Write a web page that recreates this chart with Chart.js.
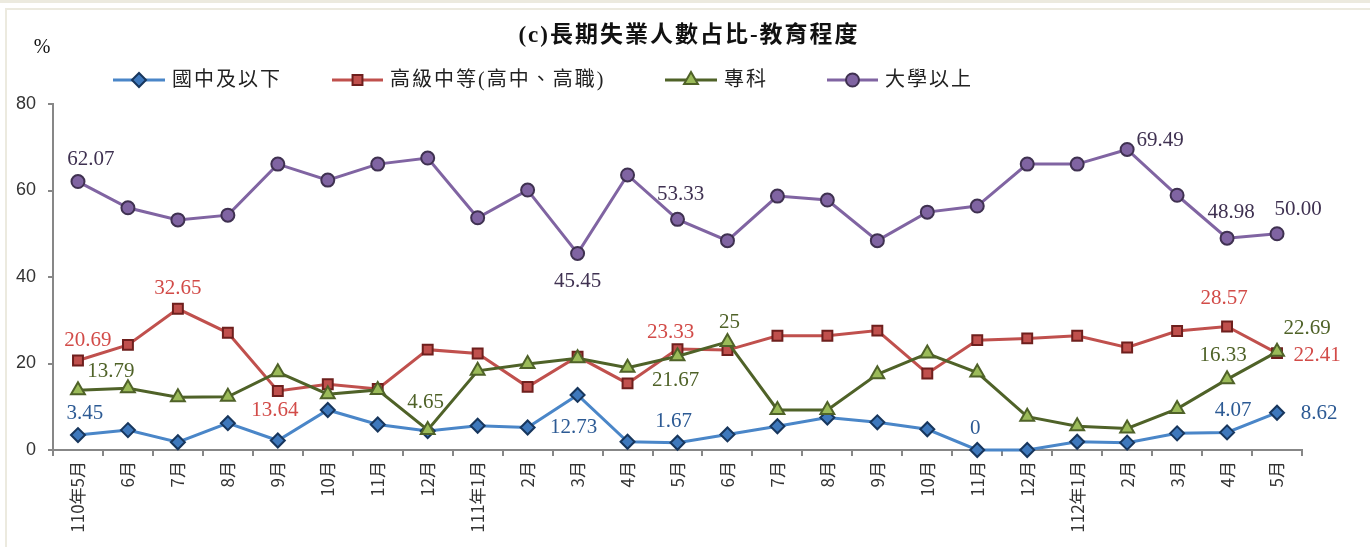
<!DOCTYPE html>
<html>
<head>
<meta charset="utf-8">
<script src="https://cdn.jsdelivr.net/npm/chart.js@4.4.1/dist/chart.umd.min.js"></script>
<style>
    html, body { margin: 0; padding: 0; background: #fff; }
    #contenedor { position: relative; width: 1370px; height: 547px; }
</style>
</head>
<body>
<div id="contenedor"><canvas id="grafica"></canvas></div>
<script>
// categorias (meses)
const meses = ['110年5月', '6月', '7月', '8月', '9月', '10月', '11月', '12月',
    '111年1月', '2月', '3月', '4月', '5月', '6月', '7月', '8月', '9月', '10月', '11月', '12月',
    '112年1月', '2月', '3月', '4月', '5月'];

// valores por serie (%)
const guoZhong = [3.45, 4.6, 1.8, 6.2, 2.2, 9.25, 5.9, 4.4, 5.6, 5.2, 12.73, 1.9, 1.67, 3.6, 5.5, 7.5, 6.4, 4.8, 0, 0, 1.9, 1.7, 3.85, 4.07, 8.62];
const gaoZhong = [20.69, 24.3, 32.65, 27.1, 13.64, 15.2, 14.1, 23.2, 22.3, 14.6, 21.6, 15.4, 23.33, 23.1, 26.4, 26.4, 27.6, 17.7, 25.4, 25.8, 26.4, 23.7, 27.5, 28.57, 22.41];
const zhuanKe = [13.79, 14.3, 12.2, 12.3, 18.0, 12.9, 13.9, 4.65, 18.3, 19.9, 21.2, 19.0, 21.67, 25, 9.25, 9.25, 17.5, 22.3, 17.9, 7.7, 5.5, 5.0, 9.5, 16.33, 22.69];
const daXue = [62.07, 56.0, 53.2, 54.3, 66.1, 62.4, 66.1, 67.5, 53.7, 60.1, 45.45, 63.6, 53.33, 48.4, 58.7, 57.8, 48.4, 55.0, 56.4, 66.1, 66.1, 69.49, 58.9, 48.98, 50.00];

// rotulos visibles (indice -> texto)
const rotGuo = {0: '3.45', 10: '12.73', 12: '1.67', 18: '0', 23: '4.07', 24: '8.62'};
const rotGao = {0: '20.69', 2: '32.65', 4: '13.64', 12: '23.33', 23: '28.57', 24: '22.41'};
const rotZhuan = {0: '13.79', 7: '4.65', 12: '21.67', 13: '25', 23: '16.33', 24: '22.69'};
const rotDa = {0: '62.07', 10: '45.45', 12: '53.33', 21: '69.49', 23: '48.98', 24: '50.00'};

const ticksY = [0, 20, 40, 60, 80];

// desplazamiento de cada rotulo respecto a su punto
const despGuo = {0: [7, -22], 10: [-4, 33], 12: [-4, -21], 18: [-2, -22], 23: [6, -22], 24: [42, 1]};
const despGao = {0: [10, -20], 2: [0, -20], 4: [-3, 19], 12: [-7, -17], 23: [-3, -28], 24: [40, 2]};
const despZhuan = {0: [33, -19], 7: [-2, -27], 12: [-2, 24], 13: [2, -19], 23: [-4, -24], 24: [30, -23]};
const despDa = {0: [13, -22], 10: [0, 28], 12: [3, -25], 21: [33, -9], 23: [4, -26], 24: [21, -24]};

const fuenteSerif = "'Liberation Serif', 'Noto Sans CJK TC', serif";

const series = [
    {label: '國中及以下', data: guoZhong, linea: '#4A86C8', relleno: '#3E78BC', borde: '#17365D',
        estilo: 'rectRot', radio: 7, texto: '#2C5A94', rot: rotGuo, desp: despGuo, orden: 2, leyX: [113, 165]},
    {label: '高級中等(高中、高職)', data: gaoZhong, linea: '#C0504D', relleno: '#C0504D', borde: '#6E1F1D',
        estilo: 'rect', radio: 7, texto: '#D24B48', rot: rotGao, desp: despGao, orden: 1, leyX: [332, 383]},
    {label: '專科', data: zhuanKe, linea: '#4F6228', relleno: '#9BBB59', borde: '#4F6228',
        estilo: 'triangle', radio: 8, texto: '#4F6228', rot: rotZhuan, desp: despZhuan, orden: 0, leyX: [665, 717]},
    {label: '大學以上', data: daXue, linea: '#8064A2', relleno: '#8064A2', borde: '#3F3151',
        estilo: 'circle', radio: 6.5, texto: '#3F3151', rot: rotDa, desp: despDa, orden: 3, leyX: [827, 878]}
];

function marca(ctx, s, x, y) {
    ctx.fillStyle = s.relleno;
    ctx.strokeStyle = s.borde;
    ctx.lineWidth = 2;
    Chart.helpers.drawPoint(ctx, {pointStyle: s.estilo, radius: s.radio, rotation: 0, borderWidth: 2}, x, y);
}

// fondo y marco beige
const marco = {
    id: 'marco',
    beforeDraw(chart) {
        const ctx = chart.ctx;
        ctx.save();
        ctx.fillStyle = '#fff';
        ctx.fillRect(0, 0, chart.width, chart.height);
        ctx.fillStyle = '#ECEADF';
        ctx.fillRect(0, 0, chart.width, 3);
        ctx.fillRect(5, 8, chart.width - 5, 2);
        ctx.fillRect(5, 8, 2, chart.height - 8);
        ctx.restore();
    }
};

// titulo, unidad y leyenda
const encabezado = {
    id: 'encabezado',
    afterDraw(chart) {
        const ctx = chart.ctx;
        ctx.save();
        ctx.fillStyle = '#111';
        ctx.textAlign = 'center';
        ctx.textBaseline = 'middle';
        ctx.font = "bold 23px 'Liberation Serif', 'Noto Sans CJK TC', serif";
        ctx.letterSpacing = '2px';
        ctx.fillText('(c)長期失業人數占比-教育程度', 689, 36);
        ctx.letterSpacing = '0px';
        ctx.font = "20px 'Liberation Serif', serif";
        ctx.fillText('%', 42, 48);

        ctx.textAlign = 'left';
        ctx.font = "20px 'Liberation Serif', 'Noto Sans CJK TC', serif";
        ctx.letterSpacing = '2px';
        series.forEach(s => {
            const [x1, x2] = s.leyX;
            const y = 80;
            ctx.strokeStyle = s.linea;
            ctx.lineWidth = 3;
            ctx.beginPath();
            ctx.moveTo(x1, y);
            ctx.lineTo(x2, y);
            ctx.stroke();
            marca(ctx, s, (x1 + x2) / 2, y);
            ctx.fillStyle = '#222';
            ctx.fillText(s.label, x2 + 7, y + 1);
        });
        ctx.restore();
    }
};

// rotulos de datos
const rotulos = {
    id: 'rotulos',
    afterDatasetsDraw(chart) {
        const ctx = chart.ctx;
        ctx.save();
        ctx.font = '21px ' + fuenteSerif;
        ctx.textAlign = 'center';
        ctx.textBaseline = 'middle';
        series.forEach((s, k) => {
            const meta = chart.getDatasetMeta(k);
            ctx.fillStyle = s.texto;
            Object.keys(s.rot).forEach(i => {
                const p = meta.data[i];
                const d = s.desp[i];
                ctx.fillText(s.rot[i], p.x + d[0], p.y + d[1]);
            });
        });
        ctx.restore();
    }
};

const ctx = document.getElementById('grafica').getContext('2d');
new Chart(ctx, {
    type: 'line',
    data: {
        labels: meses,
        datasets: series.map(s => ({
            label: s.label,
            data: s.data,
            borderColor: s.linea,
            borderWidth: 3,
            backgroundColor: s.relleno,
            pointStyle: s.estilo,
            pointRadius: s.radio,
            pointBackgroundColor: s.relleno,
            pointBorderColor: s.borde,
            pointBorderWidth: 2,
            fill: false,
            tension: 0,
            clip: false,
            order: s.orden
        }))
    },
    options: {
        responsive: true,
        maintainAspectRatio: false,
        devicePixelRatio: 1,
        animation: false,
        layout: {padding: {top: 104, right: 68, bottom: 0, left: 0}},
        plugins: {
            legend: {display: false},
            title: {display: false},
            tooltip: {enabled: false}
        },
        scales: {
            x: {
                offset: true,
                afterFit: scale => { scale.height = 97; },
                border: {color: '#878787', width: 2},
                grid: {offset: true, drawOnChartArea: false, drawTicks: true, tickLength: 6, color: '#878787', lineWidth: 2},
                ticks: {
                    autoSkip: false,
                    minRotation: 90,
                    maxRotation: 90,
                    padding: 5,
                    color: '#333',
                    font: {family: "'Noto Sans CJK TC', 'Liberation Sans', sans-serif", size: 17}
                }
            },
            y: {
                min: 0,
                max: 80,
                afterFit: scale => { scale.width = 53; },
                afterBuildTicks: scale => { scale.ticks = ticksY.map(v => ({value: v})); },
                border: {color: '#878787', width: 2},
                grid: {drawOnChartArea: false, drawTicks: true, tickLength: 5, color: '#878787', lineWidth: 2},
                ticks: {
                    padding: 12,
                    color: '#333',
                    font: {family: "'Liberation Sans', sans-serif", size: 18}
                }
            }
        }
    },
    plugins: [marco, encabezado, rotulos]
});
</script>
</body>
</html>
